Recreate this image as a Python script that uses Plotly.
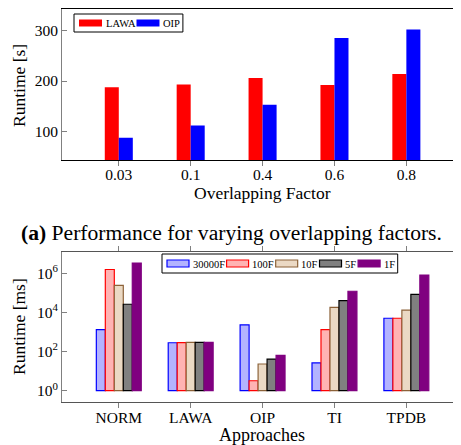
import numpy as np
import plotly.graph_objects as go

# ---- data: top chart ----
overlap_factors = ["0.03", "0.1", "0.4", "0.6", "0.8"]
lawa_runtime_s = [188, 193, 206, 192, 214]
oip_runtime_s = [88, 112, 153, 285, 302]

# ---- data: bottom chart ----
approaches = ["NORM", "LAWA", "OIP", "TI", "TPDB"]
series_names = ["30000F", "100F", "10F", "5F", "1F"]
rt_30000F = [1300, 280, 2300, 26, 5000]
rt_100F = [1.55e6, 285, 3.2, 1300, 5000]
rt_10F = [2.4e5, 290, 23, 1.8e4, 1.3e4]
rt_5F = [2.6e4, 290, 41, 4.0e4, 8.3e4]
rt_1F = [3.3e6, 290, 63, 1.2e5, 8.0e5]
log_tick_vals = [1, 100, 1e4, 1e6]
log_tick_text = ["10<sup>0</sup>", "10<sup>2</sup>", "10<sup>4</sup>", "10<sup>6</sup>"]

FONT = "Liberation Serif"

# page geometry (body has an 8px margin)
PAGE_OFF = 8
FIG_W, FIG_H = 453, 437
M_L, M_R, M_T, M_B = 54, 0, 1, 43
PLOT_X0 = PAGE_OFF + M_L
PLOT_W = FIG_W - M_L - M_R
PLOT_Y1 = PAGE_OFF + FIG_H - M_B
PLOT_H = FIG_H - M_T - M_B


def px2x(px):
    return (px - PLOT_X0) / PLOT_W


def py2y(py):
    return (PLOT_Y1 - py) / PLOT_H


fig = go.Figure()

# top chart bars
top_names = ["LAWA", "OIP"]
top_colors = ["#ff0000", "#0000ff"]
w_top = 0.195
for i, (nm, vals) in enumerate(zip(top_names, [lawa_runtime_s, oip_runtime_s])):
    fig.add_trace(go.Bar(x=overlap_factors, y=vals, name=nm,
                         marker=dict(color=top_colors[i], line=dict(width=0)),
                         width=w_top, offset=-w_top + i * w_top, xaxis="x", yaxis="y"))

# bottom chart bars
fills = ["#b3b3ff", "#ffb3b3", "#ebd9c4", "#808080", "#800080"]
borders = ["#0000ff", "#ff0000", "#8c6239", "#000000", "#800080"]
series = [rt_30000F, rt_100F, rt_10F, rt_5F, rt_1F]
w_bot = 0.125
for i, (nm, vals) in enumerate(zip(series_names, series)):
    v = np.array(vals, dtype=float)
    fig.add_trace(go.Bar(x=approaches, y=v - 1, base=[1] * len(v), name=nm,
                         marker=dict(color=fills[i], line=dict(color=borders[i], width=1.2)),
                         width=w_bot, offset=-2.5 * w_bot + i * w_bot,
                         xaxis="x2", yaxis="y2"))

shapes = []
annotations = []


def char_w(s, size):
    # approximate Times-like glyph widths (em)
    table = {"L": .611, "A": .722, "W": .944, "O": .722, "I": .333, "P": .556, "F": .556}
    return sum(table.get(c, .5) for c in s) * size


def build_legend(names, fill_cols, line_cols, line_w, x0, y0, y1, size, rect_w, rect_h, gap_after):
    xc = x0 + 5
    yc = (y0 + y1) / 2
    for nm, fc, lc in zip(names, fill_cols, line_cols):
        shapes.append(dict(type="rect", xref="paper", yref="paper",
                           x0=px2x(xc), x1=px2x(xc + rect_w),
                           y0=py2y(yc + rect_h / 2), y1=py2y(yc - rect_h / 2),
                           fillcolor=fc, line=dict(color=lc, width=line_w)))
        xc += rect_w + 1.5
        annotations.append(dict(text=nm, xref="paper", yref="paper", x=px2x(xc), y=py2y(yc + 0.5),
                                xanchor="left", yanchor="middle", showarrow=False,
                                font=dict(family=FONT, size=size, color="black")))
        xc += char_w(nm, size) + gap_after
    x1 = xc - gap_after + 5
    shapes.insert(0, dict(type="rect", xref="paper", yref="paper",
                          x0=px2x(x0), x1=px2x(x1), y0=py2y(y1), y1=py2y(y0),
                          fillcolor="white", line=dict(color="black", width=1)))


build_legend(top_names, top_colors, top_colors, 0, 74, 14, 32, 10.5, 23, 7, 1.5)
build_legend(series_names, fills, borders, 1.2, 162, 254, 273, 10.5, 22, 7, 4)


def text_at(txt, px, py, size, angle=0):
    annotations.append(dict(text=txt, xref="paper", yref="paper", x=px2x(px), y=py2y(py),
                            xanchor="center", yanchor="middle", showarrow=False, textangle=angle,
                            font=dict(family=FONT, size=size, color="black")))


# caption, axis titles
text_at("<b>(a)</b> Performance for varying overlapping factors.", 231, 233, 21.6)
text_at("Overlapping Factor", 262, 193, 17.5)
text_at("Approaches", 262, 435, 18)
text_at("Runtime [s]", 19, 86, 17.5, -90)
text_at("Runtime [ms]", 19, 327, 17.5, -90)

axis_common = dict(showgrid=False, zeroline=False, automargin=False,
                   tickfont=dict(family=FONT, size=15.5, color="black"))

fig.update_layout(
    width=FIG_W, height=FIG_H,
    margin=dict(l=M_L, r=M_R, t=M_T, b=M_B, autoexpand=False),
    paper_bgcolor="white", plot_bgcolor="white",
    barmode="overlay", showlegend=False,
    font=dict(family=FONT, color="black"),
    xaxis=dict(domain=[0, 1], anchor="y", type="category", range=[-0.79, 4.76],
               showline=True, linecolor="black", linewidth=1, mirror="ticks",
               ticks="outside", ticklen=5, tickcolor="#808080", ticklabelstandoff=-5,
               **axis_common),
    yaxis=dict(domain=[0.615, 1], anchor="x", range=[43.4, 342.4],
               tickvals=[100, 200, 300],
               showline=True, linecolor="#808080", linewidth=1, mirror="ticks",
               ticks="inside", ticklen=5, tickcolor="#808080",
               **axis_common),
    xaxis2=dict(domain=[0, 1], anchor="y2", type="category", range=[-0.79, 4.76],
                showline=True, linecolor="#555555", linewidth=1, mirror="ticks",
                ticks="outside", ticklen=5, tickcolor="#808080", ticklabelstandoff=-4,
                **axis_common),
    yaxis2=dict(domain=[0, 0.3825], anchor="x2", type="log", range=[-0.58, 7.10],
                tickvals=log_tick_vals, ticktext=log_tick_text,
                showline=True, linecolor="#808080", linewidth=1, mirror="ticks",
                ticks="inside", ticklen=5, tickcolor="#808080",
                **axis_common),
    shapes=shapes,
    annotations=annotations,
)

fig.write_html("out.html")
